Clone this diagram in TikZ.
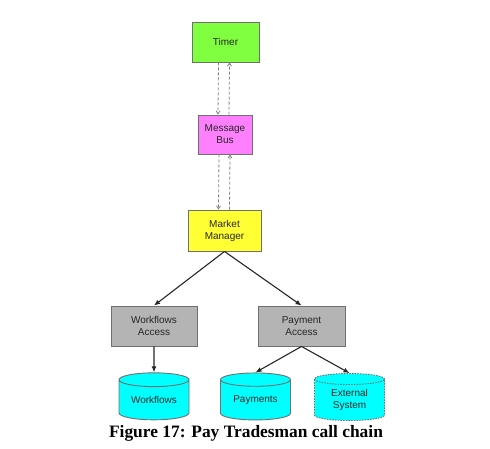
\documentclass[tikz,border=0pt]{standalone}
\usepackage{fontspec}
\setmainfont{Liberation Sans}
\newfontfamily\capfont{Liberation Serif}
\usetikzlibrary{arrows.meta,shapes.geometric}
\definecolor{timergreen}{HTML}{80FF40}
\definecolor{busmagenta}{HTML}{FF80FF}
\definecolor{mgryellow}{HTML}{FFFF33}
\definecolor{accessgray}{HTML}{B4B4B4}
\definecolor{storecyan}{HTML}{00FFFF}
\definecolor{boxline}{HTML}{707070}

\begin{document}
\begin{tikzpicture}[x=1pt,y=-1pt,
                      box/.style={draw=boxline,line width=0.9pt,align=center,inner sep=0pt,
                        font=\fontsize{10}{12}\selectfont\color{black!85}},
                      store/.style={box,cylinder,shape border rotate=90,aspect=0.3,fill=storecyan,
                        minimum width=70pt,minimum height=47pt},
                      call/.style={-{Latex[length=6pt,width=5pt]},line width=1.1pt,draw=black!85},
                      msg/.style={-{Straight Barb[length=3pt,width=4pt]},line width=0.8pt,
                        dash pattern=on 3pt off 2pt,draw=gray}]
                      \useasboundingbox (0,0) rectangle (490,449);
                      \node[box,fill=timergreen,minimum width=67pt,minimum height=40pt] (timer) at (225.5,42) {Timer};
                      \node[box,fill=busmagenta,minimum width=54pt,minimum height=39pt] (bus) at (225,134.5) {Message\\Bus};
                      \node[box,fill=mgryellow,minimum width=73pt,minimum height=41pt] (mgr) at (224.5,230.5) {Market\\Manager};
                      \node[box,fill=accessgray,minimum width=86pt,minimum height=40pt] (wfaccess) at (154,326) {Workflows\\Access};
                      \node[box,fill=accessgray,minimum width=87pt,minimum height=40pt] (payaccess) at (301.5,326) {Payment\\Access};
                      \node[store] (workflows) at (154,400) {Workflows};
                      \node[store] (payments) at (255.5,400) {Payments};
                      \node[store,dash pattern=on 1.5pt off 1.2pt] (external) at (349.5,400) {External\\System};
                      \node[font=\capfont\bfseries\fontsize{17.4}{20}\selectfont,anchor=base,inner sep=0pt] (caption) at (246,437) {Figure 17: Pay Tradesman call chain};
                      \draw[msg] ([xshift=-7pt]timer.south) -- ([xshift=-7pt]bus.north);
                      \draw[msg] ([xshift=4pt]bus.north) -- ([xshift=4pt]timer.south);
                      \draw[msg] ([xshift=-6pt]bus.south) -- ([xshift=-6pt]mgr.north);
                      \draw[msg] ([xshift=5pt]mgr.north) -- ([xshift=5pt]bus.south);
                      \draw[call] (mgr.south) -- (wfaccess.north);
                      \draw[call] (mgr.south) -- (payaccess.north);
                      \draw[call] (wfaccess.south) -- (workflows.north);
                      \draw[call] (payaccess.south) -- (payments.north);
                      \draw[call] (payaccess.south) -- (external.north);
                  \end{tikzpicture}
\end{document}
